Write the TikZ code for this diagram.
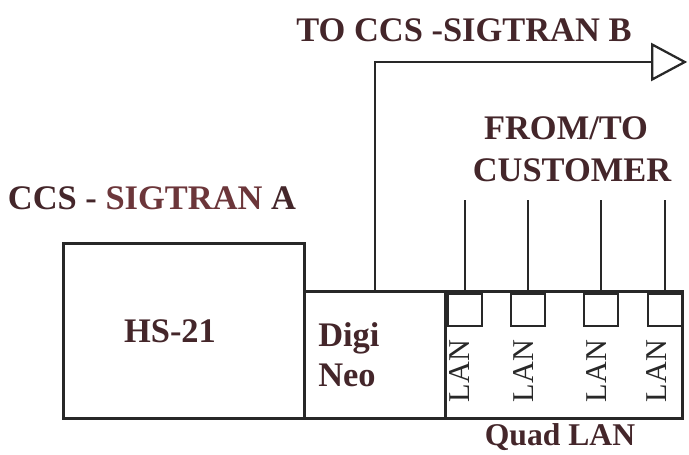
\documentclass[tikz,border=0pt]{standalone}
\usepackage{fontspec}
\setmainfont{Liberation Serif}
\usepackage{tikz}
\usetikzlibrary{arrows.meta, positioning, calc}
\definecolor{mytext}{RGB}{68,38,42}
\definecolor{myred}{RGB}{108,54,58}
\definecolor{myline}{RGB}{40,40,40}
\tikzset{
  box/.style={rectangle, draw=myline, line width=2pt, inner sep=0pt, anchor=south west},
  port/.style={rectangle, draw=myline, line width=1.7pt, inner sep=0pt, minimum width=0.85cm, minimum height=0.8cm, anchor=north west},
  biglabel/.style={text=mytext, font=\fontsize{24.5}{28}\selectfont\bfseries, inner sep=0pt},
  lanlabel/.style={text=myline, font=\fontsize{21.5}{24}\selectfont, rotate=90, inner sep=0pt},
  wire/.style={line width=1.6pt, color=myline}
}
\begin{document}
\begin{tikzpicture}
  \useasboundingbox (0,0) rectangle (17.225,11.375);

  % Boxes
  \node[box, minimum width=6.025cm, minimum height=4.375cm] (hs) at (1.55,0.875) {};
  \node[box, minimum width=3.525cm, minimum height=3.175cm] (digi) at (7.575,0.875) {};
  \node[box, minimum width=5.925cm, minimum height=3.175cm] (quad) at (11.1,0.875) {};

  % LAN ports
  \node[port] (port1) at (11.175,4.05) {};
  \node[port] (port2) at (12.75,4.05) {};
  \node[port] (port3) at (14.575,4.05) {};
  \node[port] (port4) at (16.175,4.05) {};

  % Customer lines
  \coordinate (custtop) at (14,6.375);
  \draw[wire] (port1.north) -- (port1.north |- custtop);
  \draw[wire] (port2.north) -- (port2.north |- custtop);
  \draw[wire] (port3.north) -- (port3.north |- custtop);
  \draw[wire] (port4.north) -- (port4.north |- custtop);

  % Link to SIGTRAN B
  \coordinate (sigb) at (17.18,9.825);
  \draw[wire, -{Triangle[open, length=0.9cm, width=0.95cm, line width=1.6pt]}] (digi.north) |- (sigb);

  % Labels
  \node[biglabel] (tolabel) at (11.6,10.625) {TO CCS -SIGTRAN B};
  \node[biglabel] (ccslabel) at (3.8,6.425) {CCS - \textcolor{myred}{SIGTRAN} A};
  \node[biglabel] (from) at (14.15,8.175) {FROM/TO};
  \node[biglabel] (cust) at (14.3,7.125) {CUSTOMER};
  \node[biglabel, anchor=base] (hslabel) at (4.25,2.8) {HS-21};
  \node[biglabel, anchor=base west] (digilabel) at (7.95,2.7) {Digi};
  \node[biglabel, anchor=base west] (neolabel) at (7.95,1.7) {Neo};
  \node[biglabel, font=\fontsize{22.5}{26}\selectfont\bfseries, anchor=base] (quadlabel) at (14.0,0.24) {Quad LAN};

  \node[lanlabel] (lan1) at (11.5,2.1) {LAN};
  \node[lanlabel] (lan2) at (13.1,2.1) {LAN};
  \node[lanlabel] (lan3) at (14.925,2.1) {LAN};
  \node[lanlabel] (lan4) at (16.425,2.1) {LAN};
\end{tikzpicture}
\end{document}
